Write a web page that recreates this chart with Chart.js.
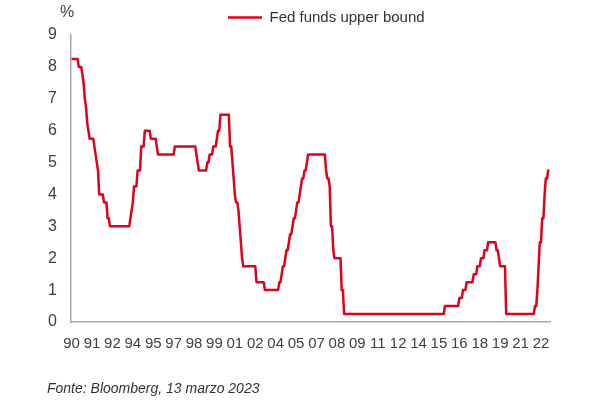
<!DOCTYPE html>
<html>
<head>
<meta charset="utf-8">
<script src="https://cdn.jsdelivr.net/npm/chart.js@4.4.0/dist/chart.umd.min.js"></script>
<style>
  html, body { margin: 0; padding: 0; background: #ffffff; }
  #wrap { position: relative; width: 600px; height: 400px; }
  #c { position: absolute; left: 0; top: 0; width: 600px; height: 400px; }
  .unit { position: absolute; left: 60px; top: 4px; font-size: 16px; line-height: 16px;
          font-family: 'Liberation Sans', Arial, sans-serif; color: #404040; }
  .src { position: absolute; left: 47px; top: 381px; font-size: 14px; line-height: 14px; font-style: italic;
         font-family: 'Liberation Sans', Arial, sans-serif; color: #333333; white-space: nowrap; }
</style>
</head>
<body>
<div id="wrap">
  <canvas id="c" width="600" height="400"></canvas>
  <div class="unit">%</div>
  <div class="src">Fonte: Bloomberg, 13 marzo 2023</div>
</div>
<script>
// ---- Data: Fed funds target (upper bound) change dates and levels ----
const changeDates = [
  '1990-01-01','1990-07-13','1990-10-29','1990-11-14','1990-12-07','1990-12-19',
  '1991-01-09','1991-02-01','1991-03-08','1991-04-30','1991-08-06','1991-09-13','1991-10-31','1991-11-06','1991-12-06','1991-12-20',
  '1992-04-09','1992-07-02','1992-09-04',
  '1994-02-04','1994-03-22','1994-04-18','1994-05-17','1994-08-16','1994-11-15',
  '1995-02-01','1995-07-06','1995-12-19','1996-01-31','1997-03-25',
  '1998-09-29','1998-10-15','1998-11-17','1999-06-30','1999-08-24','1999-11-16',
  '2000-02-02','2000-03-21','2000-05-16',
  '2001-01-03','2001-01-31','2001-03-20','2001-04-18','2001-05-15','2001-06-27','2001-08-21','2001-09-17','2001-10-02','2001-11-06','2001-12-11',
  '2002-11-06','2003-06-25',
  '2004-06-30','2004-08-10','2004-09-21','2004-11-10','2004-12-14',
  '2005-02-02','2005-03-22','2005-05-03','2005-06-30','2005-08-09','2005-09-20','2005-11-01','2005-12-13',
  '2006-01-31','2006-03-28','2006-05-10','2006-06-29',
  '2007-09-18','2007-10-31','2007-12-11',
  '2008-01-22','2008-01-30','2008-03-18','2008-04-30','2008-10-08','2008-10-29','2008-12-16',
  '2015-12-16','2016-12-14','2017-03-15','2017-06-14','2017-12-13',
  '2018-03-21','2018-06-13','2018-09-26','2018-12-19',
  '2019-07-31','2019-09-18','2019-10-30','2020-03-03','2020-03-15',
  '2022-03-16','2022-05-04','2022-06-15','2022-07-27','2022-09-21','2022-11-02','2022-12-14','2023-02-01'
];
const upperBound = [
  8.25, 8.00, 7.75, 7.50, 7.25, 7.00,
  6.75, 6.25, 6.00, 5.75, 5.50, 5.25, 5.00, 4.75, 4.50, 4.00,
  3.75, 3.25, 3.00,
  3.25, 3.50, 3.75, 4.25, 4.75, 5.50,
  6.00, 5.75, 5.50, 5.25, 5.50,
  5.25, 5.00, 4.75, 5.00, 5.25, 5.50,
  5.75, 6.00, 6.50,
  6.00, 5.50, 5.00, 4.50, 4.00, 3.75, 3.50, 3.00, 2.50, 2.00, 1.75,
  1.25, 1.00,
  1.25, 1.50, 1.75, 2.00, 2.25,
  2.50, 2.75, 3.00, 3.25, 3.50, 3.75, 4.00, 4.25,
  4.50, 4.75, 5.00, 5.25,
  4.75, 4.50, 4.25,
  3.50, 3.00, 2.25, 2.00, 1.50, 1.00, 0.25,
  0.50, 0.75, 1.00, 1.25, 1.50,
  1.75, 2.00, 2.25, 2.50,
  2.25, 2.00, 1.75, 1.25, 0.25,
  0.50, 1.00, 1.75, 2.50, 3.25, 4.00, 4.50, 4.75
];
const seriesEndDate = '2023-03-13';
const seriesLabel = 'Fed funds upper bound';

// ---- Axis: monthly category-style axis, one label every 17 months ----
const xTickLabels = ['90','91','92','94','95','97','98','99','01','02','04','05','07','08','09','11','12','14','15','16','18','19','21','22'];
const monthsPerLabel = 17;
const firstYear = 1990;
const monthCount = 399; // Jan 1990 .. Mar 2023
const yMin = 0, yMax = 9, yStep = 1;

// month index (month-end sampling, like a monthly series)
function monthOf(s) {
  const [y, m] = s.split('-').map(Number);
  return (y - firstYear) * 12 + (m - 1);
}
// Monthly line: level held until the month before a change, new level at the change month
const points = [];
changeDates.forEach((d, i) => {
  const m = monthOf(d);
  const v = upperBound[i];
  const last = points[points.length - 1];
  if (last && last.x === m) { last.y = v; return; }
  if (last && m - 1 > last.x) points.push({ x: m - 1, y: last.y });
  points.push({ x: m, y: v });
});
points.push({ x: monthOf(seriesEndDate), y: upperBound[upperBound.length - 1] });

const FONT = "'Liberation Sans', Arial, sans-serif";
const RED = '#e2001a';
const AXIS = '#a6a6a6';
const TXT = '#404040';

const legendShift = {
  id: 'legendShift',
  afterLayout(chart) {
    const l = chart.legend;
    if (!l) return;
    const w = l.right - l.left;
    l.left = 218;
    l.right = 218 + w;
  }
};

new Chart(document.getElementById('c'), {
  type: 'line',
  data: {
    datasets: [{
      label: seriesLabel,
      data: points,
      borderColor: RED,
      backgroundColor: RED,
      borderWidth: 2.5,
      borderJoinStyle: 'round',
      pointRadius: 0,
      fill: false,
      tension: 0
    }]
  },
  options: {
    responsive: false,
    animation: false,
    layout: { padding: { left: 0, right: 50, top: 0, bottom: 0 } },
    plugins: {
      legend: {
        display: true,
        position: 'top',
        align: 'start',
        labels: {
          usePointStyle: true,
          pointStyle: 'line',
          pointStyleWidth: 34,
          padding: 10,
          color: '#333333',
          font: { family: FONT, size: 15 }
        }
      },
      tooltip: { enabled: false }
    },
    scales: {
      x: {
        type: 'linear',
        min: -0.5,
        max: monthCount - 0.5,
        grid: { display: false, drawTicks: false },
        border: { display: true, color: AXIS, width: 1.5 },
        afterBuildTicks: (s) => { s.ticks = xTickLabels.map((l, i) => ({ value: i * monthsPerLabel })); },
        afterFit: (s) => { s.height = 78; },
        ticks: {
          autoSkip: false, maxRotation: 0, minRotation: 0, padding: 13,
          color: TXT, font: { family: FONT, size: 15 },
          callback: (v, i) => xTickLabels[i]
        }
      },
      y: {
        min: yMin, max: yMax,
        grid: { display: false, drawTicks: false },
        border: { display: true, color: AXIS, width: 1.5 },
        afterFit: (s) => { s.width = 71; },
        ticks: {
          stepSize: yStep, padding: 14,
          color: TXT, font: { family: FONT, size: 16 }
        }
      }
    }
  },
  plugins: [legendShift]
});
</script>
</body>
</html>
